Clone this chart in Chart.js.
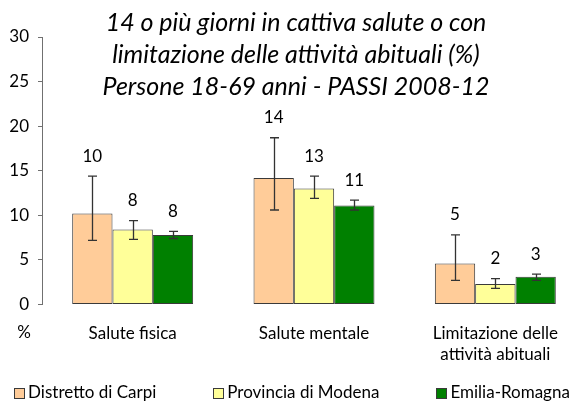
<!DOCTYPE html>
<html><head><meta charset="utf-8">
<script src="https://cdn.jsdelivr.net/npm/chart.js@4/dist/chart.umd.min.js"></script>
<style>
html,body{margin:0;padding:0;background:#fff;overflow:hidden;}
#wrap{width:571px;height:403px;overflow:hidden;position:relative;background:#fff;}
#c{display:block;}
</style></head><body>
<div id="wrap"><canvas id="c" width="590" height="403" style="width:590px;height:403px"></canvas></div>
<script>
// ---- data ----
const categories = [["Salute fisica"], ["Salute mentale"], ["Limitazione delle", "attività abituali"]];
const seriesNames = ["Distretto di Carpi", "Provincia di Modena", "Emilia-Romagna"];
const carpi = [10.2, 14.2, 4.6];
const carpiLow = [7.2, 10.6, 2.7];
const carpiHigh = [14.4, 18.7, 7.8];
const modena = [8.4, 13.0, 2.3];
const modenaLow = [7.3, 11.9, 1.8];
const modenaHigh = [9.4, 14.4, 2.9];
const emilia = [7.8, 11.1, 3.1];
const emiliaLow = [7.4, 10.6, 2.7];
const emiliaHigh = [8.2, 11.7, 3.4];
const carpiLabels = ["10", "14", "5"];
const modenaLabels = ["8", "13", "2"];
const emiliaLabels = ["8", "11", "3"];
const yTicks = [0, 5, 10, 15, 20, 25, 30];
const titleLines = ["14 o più giorni in cattiva salute o con", "limitazione delle attività abituali (%)", "Persone 18-69 anni - PASSI 2008-12"];
const yUnit = "%";

// ---- styles ----
const FONT = "Lato";
const colors = ["#FFCC99", "#FFFF99", "#008000"];
const lows = [carpiLow, modenaLow, emiliaLow];
const highs = [carpiHigh, modenaHigh, emiliaHigh];
const vlabels = [carpiLabels, modenaLabels, emiliaLabels];

const errorAndLabels = {
  id: "errorAndLabels",
  afterDatasetsDraw(chart) {
    const ctx = chart.ctx, ys = chart.scales.y;
    ctx.save();
    chart.data.datasets.forEach((ds, i) => {
      const meta = chart.getDatasetMeta(i);
      meta.data.forEach((bar, j) => {
        const x = Math.round(bar.x) + 0.5;
        const yl = ys.getPixelForValue(lows[i][j]);
        const yh = ys.getPixelForValue(highs[i][j]);
        ctx.strokeStyle = "#333333";
        ctx.lineWidth = 1.3;
        ctx.beginPath();
        ctx.moveTo(x, yl); ctx.lineTo(x, yh);
        ctx.moveTo(x - 4.5, yl); ctx.lineTo(x + 4.5, yl);
        ctx.moveTo(x - 4.5, yh); ctx.lineTo(x + 4.5, yh);
        ctx.stroke();
        ctx.fillStyle = "#000";
        ctx.font = "17px " + FONT;
        ctx.textAlign = "center";
        ctx.textBaseline = "middle";
        ctx.fillText(vlabels[i][j], bar.x, yh - 20);
      });
    });
    ctx.restore();
  },
  afterDraw(chart) {
    const ctx = chart.ctx;
    ctx.save();
    ctx.fillStyle = "#000";
    ctx.font = "italic 25px " + FONT;
    ctx.textAlign = "center";
    ctx.textBaseline = "alphabetic";
    titleLines.forEach((t, k) => ctx.fillText(t, 296, 31 + k * 32));
    ctx.font = "17px " + FONT;
    ctx.textBaseline = "middle";
    ctx.fillText(yUnit, 24, 333);
    // legend
    const boxW = 10, gapText = 4, gapItem = 57, centerX = 292, cy = 392.5;
    const items = chart.data.datasets.map(d => ({ text: d.label, color: d.backgroundColor, w: boxW + gapText + ctx.measureText(d.label).width }));
    const total = items.reduce((s, it) => s + it.w, 0) + gapItem * (items.length - 1);
    let x = centerX - total / 2;
    ctx.textAlign = "left";
    items.forEach(it => {
      ctx.fillStyle = it.color;
      ctx.fillRect(Math.round(x) + 0.5, Math.round(cy - boxW / 2) + 0.5, boxW, boxW);
      ctx.strokeStyle = "#3a3a3a";
      ctx.lineWidth = 1;
      ctx.strokeRect(Math.round(x) + 0.5, Math.round(cy - boxW / 2) + 0.5, boxW, boxW);
      ctx.fillStyle = "#000";
      ctx.fillText(it.text, x + boxW + gapText, cy);
      x += it.w + gapItem;
    });
    ctx.restore();
  }
};

new Chart(document.getElementById("c"), {
  type: "bar",
  data: {
    labels: categories,
    datasets: [
      { label: seriesNames[0], data: carpi, backgroundColor: colors[0] },
      { label: seriesNames[1], data: modena, backgroundColor: colors[1] },
      { label: seriesNames[2], data: emilia, backgroundColor: colors[2] }
    ].map(d => Object.assign(d, { borderColor: "#3a3a3a", borderWidth: 1, borderSkipped: false }))
  },
  options: {
    responsive: false,
    devicePixelRatio: 1,
    animation: false,
    categoryPercentage: 0.667,
    barPercentage: 1.0,
    layout: { padding: { top: 37, right: 4, left: 0, bottom: 28.5 } },
    plugins: {
      title: { display: false },
      tooltip: { enabled: false },
      legend: { display: false }
    },
    scales: {
      x: {
        grid: { display: false, drawTicks: false, tickLength: 0 },
        border: { display: false },
        ticks: {
          color: "#000", padding: 19, maxRotation: 0, autoSkip: false,
          font: { family: FONT, size: 17, lineHeight: 1.235 }
        },
        afterFit(s) { s.height = 70; }
      },
      y: {
        min: 0, max: 30,
        afterBuildTicks(s) { s.ticks = yTicks.map(v => ({ value: v })); },
        grid: { drawOnChartArea: false, drawTicks: true, tickLength: 4, color: "#707070" },
        border: { display: true, color: "#707070", width: 1 },
        ticks: { color: "#000", padding: 9, font: { family: FONT, size: 17 } },
        afterFit(s) { s.width = 42; }
      }
    }
  },
  plugins: [errorAndLabels]
});
</script>
</body></html>
